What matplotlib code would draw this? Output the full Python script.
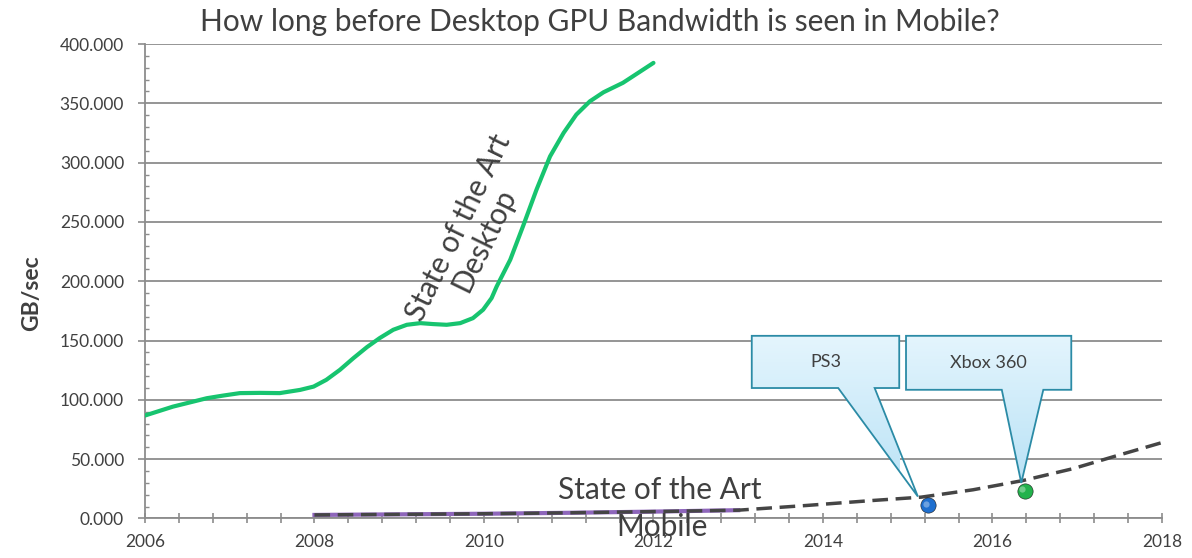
"""
plot.py
Desktop vs mobile GPU bandwidth chart, with PS3 / Xbox 360 callouts.
"""

import matplotlib
matplotlib.use("Agg")
import matplotlib.pyplot as plt
import numpy as np
from matplotlib.patches import Polygon
from matplotlib.ticker import MultipleLocator, FormatStrFormatter

# --- Data ---
desktop_year = [2006.00, 2006.33, 2006.73, 2006.92, 2007.12, 2007.36, 2007.59,
                2007.83, 2007.99, 2008.14, 2008.30, 2008.46, 2008.62, 2008.77,
                2008.93, 2009.09, 2009.25, 2009.40, 2009.56, 2009.72, 2009.87,
                2009.99, 2010.09, 2010.15, 2010.31, 2010.46, 2010.62, 2010.78,
                2010.94, 2011.09, 2011.25, 2011.41, 2011.64, 2012.00]
desktop_bw = [86.8, 94.3, 101.4, 103.6, 105.7, 105.9, 105.7,
              108.4, 111.2, 116.9, 125.3, 135.2, 144.5, 152.1,
              159.1, 163.3, 164.7, 163.9, 163.3, 164.7, 168.9,
              176.0, 185.8, 195.6, 218.1, 246.2, 277.2, 305.3,
              325.1, 340.5, 351.7, 359.3, 367.3, 384.1]

mobile_year = [2008, 2009, 2010, 2011, 2012, 2013]
mobile_bw = [3.0, 3.5, 4.0, 4.8, 5.8, 7.0]

trend_year = [2008, 2009, 2010, 2011, 2012, 2013, 2013.81, 2014.59, 2015.16,
              2015.77, 2016.36, 2016.95, 2017.47, 2018.0]
trend_bw = [3.0, 3.5, 4.0, 4.8, 5.8, 7.0, 11.0, 15.2, 18.0, 24.2, 32.0, 42.0,
            53.0, 64.0]

consoles = ["PS3", "Xbox 360"]
console_year = [2015.24, 2016.38]
console_bw = [11.0, 23.0]
console_color = ["#1f6fcf", "#22b24c"]

# callout boxes (x0, x1, y0, y1) and wedge (base x0, base x1, tip x, tip y)
callout_box = [(2013.16, 2014.90, 110, 154), (2014.98, 2016.93, 108.5, 154)]
callout_wedge = [(2014.18, 2014.61, 2015.12, 18.5), (2016.11, 2016.60, 2016.34, 30.0)]

TEXT = "#404040"
GRID = "#8c8c8c"

plt.rcParams["font.family"] = ["Lato", "DejaVu Sans"]

fig = plt.figure(figsize=(11.92, 5.58), dpi=100)
ax = fig.add_axes([0.1216, 0.0708, 0.8532, 0.8503])

ax.set_xlim(2006, 2018)
ax.set_ylim(0, 400)

# --- gridlines / spines / ticks ---
ax.yaxis.set_major_locator(MultipleLocator(50))
ax.yaxis.set_minor_locator(MultipleLocator(10))
ax.xaxis.set_major_locator(MultipleLocator(2))
ax.xaxis.set_minor_locator(MultipleLocator(0.4))
ax.yaxis.set_major_formatter(FormatStrFormatter("%.3f"))
ax.xaxis.set_major_formatter(FormatStrFormatter("%d"))

ax.grid(axis="y", which="major", color=GRID, linewidth=1.3, zorder=0)
for side in ("top", "right"):
    ax.spines[side].set_visible(False)
for side in ("left", "bottom"):
    ax.spines[side].set_color(GRID)
    ax.spines[side].set_linewidth(1.3)

ax.tick_params(axis="y", which="major", direction="out", length=5, width=1.2,
               color=GRID, labelsize=12.5, labelcolor=TEXT, pad=10)
ax.tick_params(axis="y", which="minor", direction="in", length=3, width=1.0,
               color=GRID)
ax.tick_params(axis="x", which="both", direction="inout", length=7, width=1.2,
               color=GRID, labelsize=12.5, labelcolor=TEXT, pad=8)

ax.set_ylabel("GB/sec", fontsize=16.5, fontweight="bold", color=TEXT)
ax.yaxis.set_label_coords(-0.101, 0.474)

# --- series ---
ax.plot(desktop_year, desktop_bw, color="#17c46f", linewidth=3.0,
        solid_capstyle="round", solid_joinstyle="round", zorder=3)
ax.plot(mobile_year, mobile_bw, color="#8e66bb", linewidth=3.0, zorder=3)
ax.plot(trend_year, trend_bw, color="#454545", linewidth=2.5,
        dashes=(4.5, 2.2), zorder=4)

# --- callouts with a light-blue gradient ---
grad = np.linspace(0, 1, 256).reshape(-1, 1)
cmap = matplotlib.colors.LinearSegmentedColormap.from_list(
    "callout", ["#b9e2f6", "#e4f5fd"])
for (bx0, bx1, by0, by1), (wx0, wx1, tx, ty) in zip(callout_box, callout_wedge):
    verts = [(bx0, by1), (bx1, by1), (bx1, by0), (wx1, by0), (tx, ty),
             (wx0, by0), (bx0, by0)]
    poly = Polygon(verts, closed=True, facecolor="none", edgecolor="#2b8ba6",
                   linewidth=1.3, zorder=6, clip_on=False)
    ax.add_patch(poly)
    img = ax.imshow(grad, cmap=cmap, aspect="auto", origin="lower",
                    extent=(bx0, bx1, ty, by1), zorder=5)
    img.set_clip_path(poly)

for name, (bx0, bx1, by0, by1) in zip(consoles, callout_box):
    ax.text((bx0 + bx1) / 2, (by0 + by1) / 2, name, ha="center",
            va="center", fontsize=13, color=TEXT, zorder=7)

for x, y, c in zip(console_year, console_bw, console_color):
    ax.plot(x, y, "o", markersize=11, color=c, markeredgecolor="#1a1a1a",
            markeredgewidth=0.4, zorder=8)
    ax.plot(x - 0.03, y + 1.5, "o", markersize=4.5, color="white", alpha=0.35,
            markeredgewidth=0, zorder=9)

# --- series labels ---
ax.text(2009.85, 240, "State of the Art\nDesktop", rotation=64,
        rotation_mode="anchor", ha="center", va="center", fontsize=21.5,
        color=TEXT, linespacing=1.05, zorder=7)
ax.text(2012.08, 24, "State of the Art", ha="center", va="center",
        fontsize=21.5, color=TEXT, zorder=7)
ax.text(2012.1, -7, "Mobile", ha="center", va="center", fontsize=21.5,
        color=TEXT, zorder=7, clip_on=False)

fig.text(600 / 1192, 1 - 22 / 558,
         "How long before Desktop GPU Bandwidth is seen in Mobile?",
         ha="center", va="center", fontsize=21.5, color=TEXT)

fig.savefig("out.png", dpi=100)
